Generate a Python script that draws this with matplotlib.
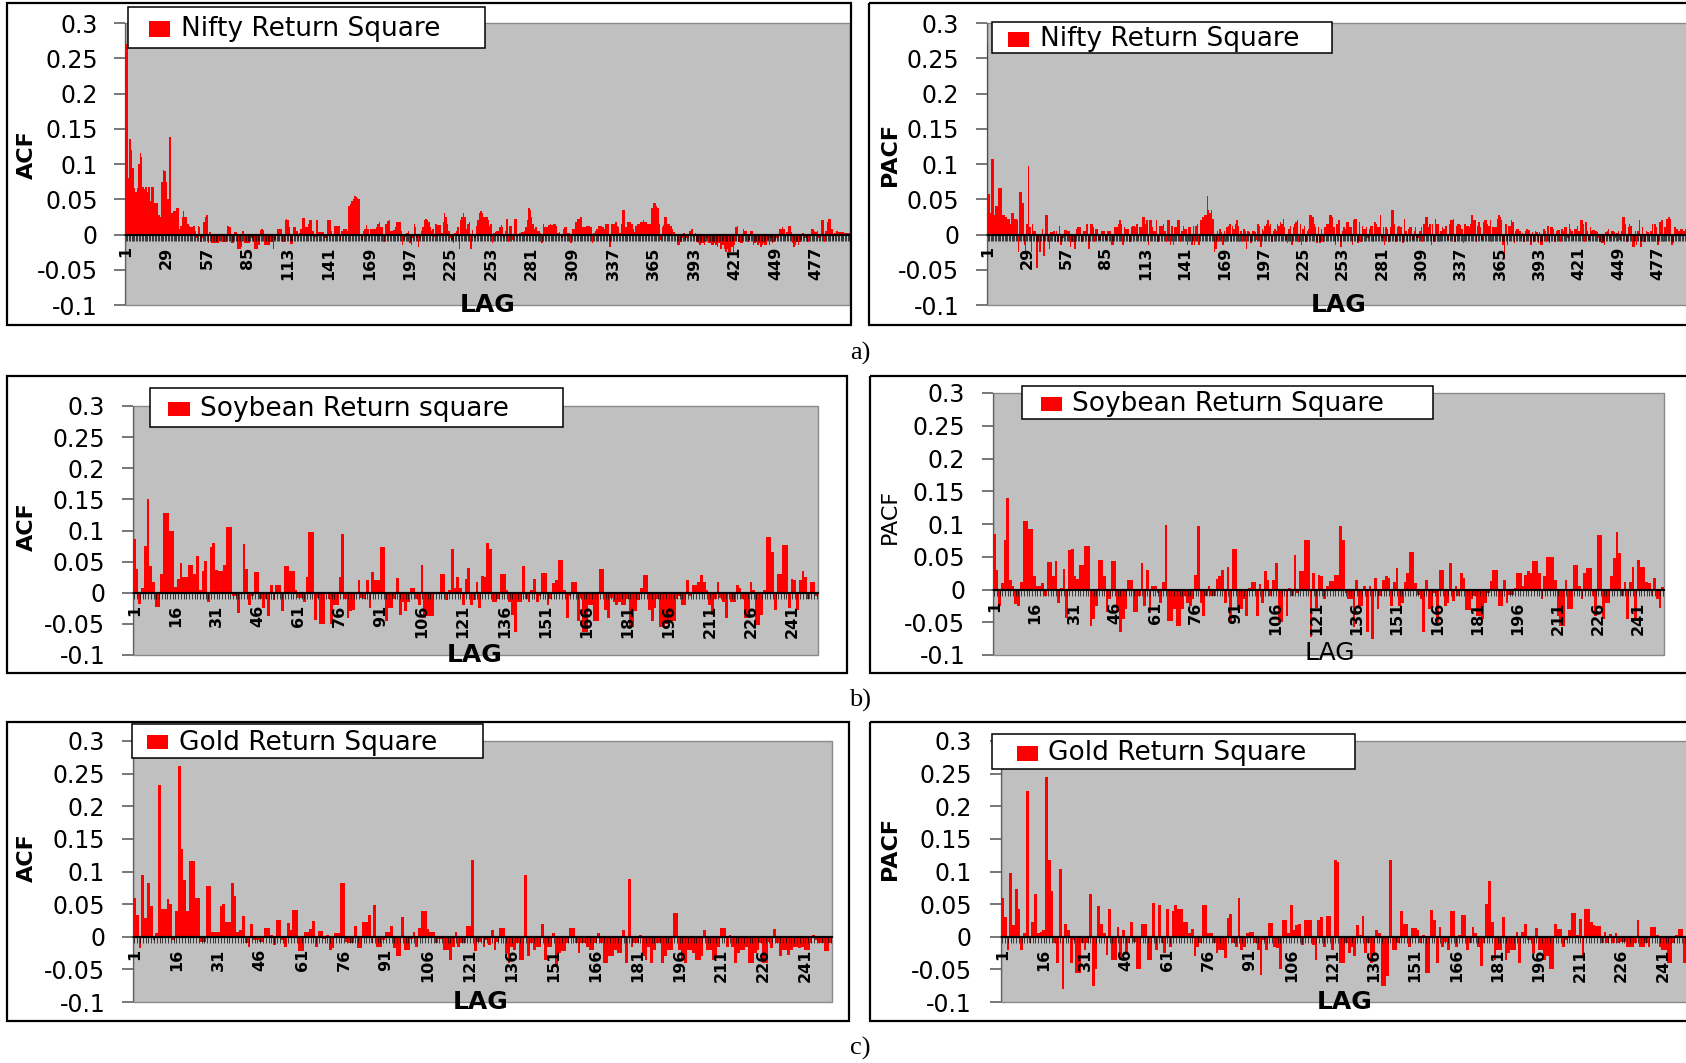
import numpy as np
import matplotlib
matplotlib.use("Agg")
import matplotlib.pyplot as plt
from matplotlib.patches import Rectangle

plt.rcParams["font.family"] = ["DejaVu Sans"]

W, H = 1686, 1063
RED = "#ff0000"
GREY = "#c0c0c0"

Y_TICKS = [-0.1, -0.05, 0, 0.05, 0.1, 0.15, 0.2, 0.25, 0.3]
Y_TICK_LABELS = ["-0.1", "-0.05", "0", "0.05", "0.1", "0.15", "0.2", "0.25", "0.3"]

# label every 28th lag for Nifty (1, 29, 57 ...), every 15th for the others
NIFTY_STEP = 28
OTHER_STEP = 15

NIFTY_ACF = [
    0.273, 0.270, 0.080, 0.135, 0.120, 0.095, 0.066, 0.060, 0.066, 0.100,
    0.115, 0.110, 0.068, 0.065, 0.068, 0.060, 0.068, 0.047, 0.068, 0.068,
    0.045, 0.045, 0.045, 0.027, 0.025, 0.075, 0.092, 0.090, 0.075, 0.050,
    0.138, 0.138, 0.030, 0.033, 0.033, 0.038, 0.038, 0.008, 0.012, 0.025,
    0.033, 0.025, 0.025, 0.015, 0.012, 0.010, 0.010, 0.012, 0.005, -0.005,
    0.012, 0.010, -0.010, -0.005, 0.018, 0.025, 0.027, -0.012, 0.004, -0.012,
    -0.012, -0.012, -0.012, -0.012, -0.012, 0.000, 0.000, -0.010, -0.010, -0.010,
    0.012, 0.012, 0.010, -0.012, -0.012, 0.003, 0.004, -0.020, -0.020, -0.020,
    -0.018, 0.005, -0.012, -0.012, -0.012, -0.012, 0.000, -0.005, -0.010, -0.020,
    -0.020, -0.020, -0.015, 0.006, 0.008, 0.006, -0.015, -0.015, -0.015, -0.015,
    -0.010, -0.010, -0.020, -0.008, 0.000, 0.008, 0.008, 0.008, -0.010, -0.010,
    0.020, 0.022, 0.020, 0.010, -0.014, -0.014, 0.011, 0.011, 0.005, -0.005,
    0.002, 0.008, 0.024, 0.024, 0.010, 0.010, 0.015, 0.020, 0.020, 0.005,
    -0.005, -0.003, 0.020, 0.003, 0.003, 0.003, 0.003, -0.005, -0.005, 0.020,
    0.020, 0.020, 0.005, 0.000, 0.012, 0.012, 0.012, 0.012, -0.008, 0.005,
    0.008, 0.008, 0.008, 0.005, 0.040, 0.043, 0.048, 0.050, 0.055, 0.053,
    0.052, 0.050, 0.000, -0.008, 0.005, 0.008, 0.013, 0.008, -0.005, 0.008,
    0.008, 0.008, 0.008, 0.010, 0.015, 0.018, 0.010, 0.010, -0.010, 0.015,
    0.015, 0.019, 0.020, 0.005, 0.005, 0.007, 0.010, 0.018, 0.018, 0.018,
    0.005, -0.015, -0.008, -0.003, 0.002, 0.005, -0.012, -0.015, -0.005, 0.015,
    0.010, -0.005, -0.018, -0.005, 0.005, 0.010, 0.020, 0.022, 0.020, 0.018,
    0.010, 0.005, 0.008, -0.003, 0.015, 0.013, 0.013, 0.013, 0.002, 0.018,
    0.030, 0.025, 0.015, 0.005, -0.005, -0.008, -0.012, 0.002, 0.005, 0.010,
    -0.020, 0.020, 0.025, 0.030, 0.025, 0.008, 0.015, 0.018, -0.020, 0.007,
    0.000, -0.005, 0.012, 0.020, 0.030, 0.033, 0.030, 0.025, 0.025, 0.025,
    0.020, 0.012, 0.015, -0.012, 0.002, 0.003, 0.005, 0.005, 0.010, 0.013,
    0.010, -0.005, 0.005, 0.022, -0.010, 0.012, 0.012, -0.008, 0.022, 0.022,
    -0.004, 0.000, 0.002, 0.003, 0.004, 0.005, 0.010, 0.020, 0.037, 0.035,
    0.025, 0.015, 0.008, 0.010, 0.005, 0.005, 0.002, -0.012, 0.015, 0.010,
    0.010, 0.010, 0.013, 0.015, 0.013, 0.015, 0.015, 0.012, 0.002, 0.003,
    0.001, -0.005, 0.008, 0.010, 0.010, 0.002, 0.002, -0.012, 0.008, 0.008,
    0.018, 0.018, 0.022, 0.022, 0.025, 0.010, 0.010, 0.010, 0.012, 0.012,
    0.012, 0.010, -0.012, 0.002, 0.005, 0.008, 0.012, 0.012, 0.012, 0.010,
    0.008, 0.015, 0.015, 0.015, -0.018, 0.015, 0.015, 0.015, 0.018, 0.012,
    0.010, 0.002, 0.015, 0.035, 0.035, 0.010, 0.018, 0.018, 0.018, 0.015,
    0.008, 0.003, 0.012, 0.015, 0.015, 0.018, 0.018, 0.020, 0.018, 0.018,
    0.015, 0.015, 0.015, 0.038, 0.045, 0.045, 0.040, 0.038, 0.015, -0.008,
    0.010, 0.013, 0.025, 0.025, 0.015, 0.015, 0.012, 0.008, 0.003, 0.000,
    0.000, -0.015, -0.015, -0.010, -0.005, 0.002, -0.008, -0.005, -0.005, 0.005,
    0.008, 0.008, -0.003, 0.002, -0.010, -0.012, -0.015, -0.012, -0.012, -0.015,
    -0.010, -0.005, -0.012, -0.012, -0.015, -0.015, -0.012, -0.015, -0.018, -0.012,
    -0.020, -0.020, -0.015, -0.020, -0.025, -0.020, -0.025, -0.025, -0.018, -0.025,
    -0.015, 0.010, 0.012, -0.010, -0.012, -0.012, 0.008, 0.005, 0.005, -0.010,
    -0.008, 0.005, 0.005, -0.015, -0.012, -0.010, -0.015, -0.012, -0.018, -0.015,
    -0.012, -0.015, -0.015, -0.008, -0.015, -0.005, -0.012, -0.010, -0.008, -0.005,
    -0.005, 0.008, 0.008, 0.010, 0.008, -0.005, 0.003, 0.012, 0.012, 0.003,
    -0.012, -0.018, -0.015, -0.010, -0.015, -0.010, -0.008, 0.002, -0.005, -0.005,
    -0.010, -0.010, 0.000, 0.008, 0.008, 0.005, 0.003, 0.005, -0.005, -0.003,
    0.020, 0.020, -0.010, 0.005, 0.018, 0.022, 0.022, 0.008, -0.008, 0.002,
    0.005, 0.005, 0.004, 0.003, 0.003, 0.003, 0.002, 0.002, 0.002, 0.002,
]

NIFTY_PACF = [
    0.272, 0.058, 0.030, 0.107, 0.107, 0.028, 0.040, 0.040, 0.066, 0.066,
    0.066, 0.028, 0.028, 0.025, 0.022, 0.022, 0.015, 0.030, 0.030, 0.022,
    0.022, 0.020, -0.025, 0.060, 0.060, 0.045, -0.015, -0.028, 0.015, 0.097,
    0.010, -0.025, 0.015, 0.005, 0.005, -0.047, -0.010, -0.025, 0.000, 0.008,
    -0.030, 0.027, 0.027, -0.010, -0.020, 0.003, 0.003, 0.005, -0.010, 0.005,
    -0.010, 0.012, -0.015, -0.005, -0.005, 0.006, 0.006, 0.005, 0.005, -0.018,
    -0.010, -0.010, -0.020, 0.008, 0.010, 0.010, 0.010, -0.010, 0.005, 0.005,
    0.015, 0.015, -0.020, 0.015, 0.015, 0.010, -0.010, 0.008, 0.008, -0.008,
    -0.008, 0.005, 0.005, 0.005, -0.008, 0.005, 0.005, 0.005, -0.015, -0.015,
    0.010, 0.010, 0.010, 0.015, 0.020, 0.015, -0.015, 0.010, 0.008, 0.008,
    0.008, -0.010, 0.010, 0.012, 0.012, 0.010, 0.015, -0.005, 0.010, 0.010,
    0.025, 0.025, 0.015, 0.020, -0.015, 0.020, 0.020, 0.010, 0.005, 0.005,
    0.020, -0.010, 0.012, 0.012, 0.012, 0.015, 0.005, -0.010, 0.020, 0.020,
    -0.015, 0.012, -0.015, 0.010, 0.010, 0.020, 0.020, -0.010, 0.005, 0.012,
    0.008, 0.008, -0.015, 0.010, 0.010, -0.015, 0.012, -0.015, 0.012, 0.015,
    -0.015, 0.020, 0.020, 0.025, 0.028, 0.028, 0.055, 0.035, 0.030, 0.035,
    0.022, -0.025, -0.020, 0.005, -0.010, 0.008, 0.003, -0.015, 0.005, -0.010,
    0.010, 0.012, 0.015, -0.010, 0.012, 0.008, 0.015, 0.020, 0.012, -0.010,
    0.005, -0.010, 0.008, 0.005, -0.020, 0.005, 0.003, -0.012, 0.005, 0.005,
    0.003, -0.008, 0.015, 0.012, -0.018, 0.008, 0.005, 0.012, 0.015, 0.020,
    0.012, 0.015, -0.010, 0.005, 0.008, 0.005, 0.015, 0.012, 0.018, 0.015,
    0.022, 0.010, -0.008, -0.012, 0.008, 0.012, -0.015, 0.010, 0.015, 0.018,
    0.020, -0.010, 0.015, -0.015, 0.008, 0.012, -0.010, 0.005, 0.008, 0.028,
    0.027, 0.025, 0.015, 0.010, -0.012, 0.010, -0.012, 0.008, -0.010, 0.010,
    0.010, 0.015, 0.015, 0.028, 0.028, 0.025, 0.010, -0.015, 0.015, 0.020,
    0.020, -0.018, 0.005, 0.010, 0.008, 0.018, 0.018, 0.010, 0.010, -0.015,
    0.020, 0.022, 0.022, -0.012, 0.018, -0.010, 0.012, 0.008, 0.008, 0.010,
    -0.005, 0.008, 0.012, 0.012, -0.010, 0.018, 0.015, 0.010, 0.010, 0.028,
    -0.005, 0.010, -0.015, 0.010, 0.008, -0.010, 0.010, 0.035, 0.035, 0.015,
    -0.010, 0.010, 0.012, 0.010, 0.010, -0.012, 0.022, 0.005, -0.010, 0.008,
    0.010, 0.010, -0.008, 0.005, 0.010, -0.005, -0.005, 0.005, 0.010, -0.010,
    0.015, 0.025, 0.025, 0.010, 0.015, -0.015, 0.015, -0.010, 0.022, 0.015,
    0.015, -0.010, 0.005, 0.010, 0.008, 0.012, 0.012, -0.008, 0.015, 0.020,
    0.020, 0.022, -0.010, 0.012, 0.015, 0.015, 0.013, 0.008, -0.012, 0.015,
    0.012, 0.012, 0.010, 0.015, 0.028, 0.020, 0.020, -0.010, 0.012, 0.018,
    0.010, -0.008, 0.018, 0.020, 0.020, 0.015, 0.012, 0.020, -0.010, 0.010,
    0.010, 0.010, 0.022, 0.027, 0.025, 0.020, -0.015, -0.035, 0.015, -0.015,
    0.012, 0.012, 0.020, 0.018, -0.012, 0.005, 0.008, 0.008, 0.005, -0.005,
    0.002, -0.010, 0.005, 0.008, 0.006, 0.006, -0.015, 0.003, -0.010, 0.005,
    0.003, -0.012, 0.003, -0.015, -0.015, 0.008, 0.005, -0.010, 0.012, -0.012,
    0.010, 0.010, 0.008, -0.010, 0.005, 0.006, 0.006, -0.010, 0.008, 0.005,
    0.010, 0.010, -0.005, 0.015, 0.008, 0.005, -0.008, 0.008, 0.008, 0.012,
    0.005, 0.020, 0.020, 0.015, -0.010, 0.018, 0.005, -0.008, 0.010, 0.005,
    0.006, 0.006, 0.005, 0.003, -0.005, -0.010, -0.012, -0.012, -0.015, 0.003,
    0.005, 0.008, -0.005, 0.005, 0.005, 0.003, -0.005, 0.002, 0.005, -0.008,
    0.005, 0.025, 0.025, 0.015, -0.010, 0.010, 0.015, 0.012, -0.018, -0.018,
    0.005, -0.015, 0.005, 0.020, -0.018, 0.010, -0.010, -0.010, 0.005, 0.003,
    -0.010, 0.005, 0.015, -0.010, 0.015, 0.010, -0.015, 0.018, 0.018, 0.020,
    -0.010, 0.010, 0.022, 0.022, 0.025, 0.022, -0.015, -0.012, 0.010, 0.008,
    0.008, 0.005, 0.008, 0.008, 0.005, 0.005, 0.008, 0.008, 0.005, 0.005,
]

SOY_ACF = [
    0.087, 0.038, -0.018, 0.008, 0.075, 0.150, 0.043, 0.018, -0.023, -0.023,
    0.030, 0.128, 0.128, 0.100, 0.100, 0.010, 0.022, 0.047, 0.025, 0.025,
    0.045, 0.045, 0.030, 0.059, 0.005, 0.035, 0.051, -0.015, 0.073, 0.080,
    0.037, 0.035, 0.035, 0.045, 0.106, 0.106, -0.005, -0.005, -0.033, 0.002,
    0.078, 0.038, -0.020, -0.005, 0.033, 0.033, -0.010, -0.025, -0.010, -0.038,
    0.012, -0.012, 0.012, 0.012, -0.030, 0.043, 0.043, 0.035, 0.035, 0.005,
    -0.008, -0.008, -0.015, 0.025, 0.097, 0.097, -0.043, -0.008, -0.050, -0.050,
    0.000, -0.010, -0.050, -0.020, -0.020, 0.025, 0.095, -0.010, -0.040, -0.030,
    -0.028, 0.002, 0.020, -0.008, -0.010, 0.020, -0.025, 0.033, 0.020, 0.020,
    0.073, 0.073, -0.045, -0.025, -0.025, -0.010, 0.023, -0.035, -0.015, -0.030,
    -0.015, 0.008, 0.008, -0.010, -0.020, 0.045, -0.040, -0.038, -0.038, -0.038,
    0.002, 0.002, 0.030, 0.030, -0.012, 0.005, 0.070, 0.008, 0.025, 0.008,
    -0.020, 0.022, 0.040, -0.020, -0.012, 0.018, -0.025, 0.027, 0.025, 0.080,
    0.070, -0.015, -0.015, -0.010, 0.030, 0.030, 0.005, -0.015, -0.035, -0.063,
    -0.015, -0.015, 0.043, -0.010, -0.015, 0.005, 0.022, -0.015, -0.005, 0.031,
    0.031, -0.020, -0.010, 0.015, 0.020, 0.053, 0.053, 0.005, -0.040, -0.005,
    0.018, 0.018, -0.045, -0.008, -0.063, -0.063, -0.020, -0.020, -0.045, -0.045,
    0.038, 0.038, -0.028, -0.040, -0.008, -0.015, -0.020, -0.015, -0.020, -0.020,
    -0.010, -0.055, -0.055, -0.030, -0.012, 0.008, 0.028, 0.028, -0.028, -0.045,
    -0.025, -0.010, -0.055, -0.055, -0.050, -0.050, -0.045, -0.045, -0.010, -0.005,
    -0.020, -0.020, 0.020, -0.005, 0.012, 0.012, 0.018, 0.028, 0.018, 0.005,
    -0.020, -0.035, -0.010, 0.018, -0.008, -0.015, -0.040, 0.002, -0.015, -0.015,
    0.012, 0.008, -0.010, -0.040, -0.040, 0.018, 0.005, -0.052, -0.052, -0.035,
    0.005, 0.090, 0.090, 0.065, -0.028, 0.030, 0.030, 0.077, 0.077, -0.025,
    0.022, 0.020, -0.028, 0.020, 0.035, 0.025, -0.010, 0.018, 0.018, -0.005,
]

SOY_PACF = [
    0.085, 0.030, -0.025, 0.010, 0.075, 0.140, 0.015, 0.005, -0.022, -0.025,
    0.012, 0.104, 0.104, 0.093, 0.093, 0.020, 0.005, 0.005, 0.010, -0.010,
    0.042, 0.042, 0.020, 0.043, -0.020, 0.003, 0.032, -0.043, 0.060, 0.062,
    0.020, 0.016, 0.038, 0.038, 0.066, 0.066, -0.055, -0.045, -0.025, 0.045,
    0.045, 0.020, -0.035, -0.015, 0.043, 0.043, -0.035, -0.065, -0.045, -0.030,
    0.015, 0.015, -0.035, -0.035, -0.010, 0.040, -0.025, 0.030, -0.035, 0.005,
    0.005, -0.005, -0.020, 0.012, 0.098, -0.048, -0.048, -0.030, -0.055, -0.055,
    -0.030, -0.010, -0.020, -0.025, -0.015, 0.022, 0.097, -0.020, -0.040, -0.010,
    0.005, -0.010, -0.010, 0.016, 0.020, 0.030, -0.020, 0.035, -0.048, 0.062,
    0.062, -0.030, -0.030, -0.015, -0.040, 0.003, 0.011, 0.011, -0.040, 0.008,
    -0.020, 0.028, 0.015, -0.010, 0.015, 0.040, -0.050, -0.050, 0.001, -0.040,
    0.003, -0.010, 0.053, -0.005, 0.028, 0.028, 0.075, 0.075, -0.072, 0.025,
    -0.028, 0.022, 0.020, -0.015, 0.005, 0.013, 0.013, 0.022, 0.022, 0.097,
    0.075, -0.005, -0.015, -0.015, -0.058, 0.015, -0.025, -0.025, 0.005, -0.065,
    0.005, -0.075, 0.017, -0.030, -0.010, 0.015, 0.020, 0.018, -0.025, 0.012,
    0.033, -0.025, -0.020, 0.012, 0.025, 0.058, 0.058, 0.010, -0.008, -0.015,
    -0.065, 0.015, -0.030, -0.030, -0.005, -0.050, 0.030, 0.030, -0.025, -0.020,
    0.040, -0.018, 0.005, -0.010, 0.025, 0.018, -0.032, -0.032, -0.015, -0.010,
    -0.040, -0.040, -0.045, -0.020, -0.005, 0.013, 0.030, 0.030, -0.025, -0.025,
    0.015, -0.020, -0.008, -0.008, 0.003, 0.025, 0.025, 0.005, 0.022, 0.028,
    0.025, 0.043, 0.043, 0.025, -0.015, 0.020, 0.050, 0.050, 0.050, 0.015,
    -0.040, -0.055, -0.055, 0.015, -0.030, -0.030, 0.037, 0.037, 0.005, -0.015,
    0.025, 0.033, 0.033, -0.010, -0.040, 0.083, 0.083, -0.045, -0.020, -0.020,
    0.020, 0.048, 0.088, 0.055, -0.010, 0.012, -0.045, 0.012, 0.035, -0.045,
    0.045, 0.035, 0.035, 0.012, 0.010, -0.010, 0.017, -0.015, -0.028, 0.004,
]

GOLD_ACF = [
    0.060, 0.034, -0.017, 0.095, 0.028, 0.083, 0.047, -0.005, 0.005, 0.232,
    0.042, 0.042, 0.058, 0.050, -0.005, 0.040, 0.262, 0.135, 0.087, 0.040,
    0.116, 0.116, 0.060, 0.060, -0.008, -0.008, 0.078, 0.078, 0.008, 0.008,
    0.008, 0.047, 0.050, 0.023, 0.023, 0.082, 0.062, 0.008, 0.010, 0.032,
    -0.010, -0.015, 0.019, -0.005, -0.005, -0.008, -0.008, 0.013, 0.013, 0.002,
    -0.013, 0.026, 0.026, -0.005, -0.015, 0.021, 0.010, 0.041, 0.041, -0.022,
    -0.022, 0.008, 0.008, 0.012, 0.024, -0.015, 0.009, 0.009, -0.003, 0.002,
    -0.020, -0.018, 0.006, 0.006, 0.083, 0.083, -0.008, -0.010, -0.010, 0.016,
    -0.018, -0.018, 0.023, 0.023, 0.034, -0.010, 0.049, -0.015, -0.015, -0.005,
    0.007, 0.007, 0.017, -0.018, -0.030, -0.030, 0.030, -0.020, -0.020, -0.003,
    0.008, -0.015, 0.013, 0.040, 0.040, 0.012, 0.008, 0.008, -0.010, -0.003,
    -0.003, -0.020, -0.020, -0.035, -0.015, 0.007, -0.015, -0.010, -0.010, 0.017,
    0.017, 0.117, -0.022, -0.008, -0.008, -0.015, -0.005, -0.012, 0.010, -0.020,
    -0.008, 0.014, 0.014, -0.025, -0.040, -0.015, -0.020, -0.010, -0.035, -0.035,
    0.094, -0.030, -0.010, -0.020, -0.015, -0.015, 0.019, -0.035, -0.015, -0.015,
    0.005, -0.045, -0.025, -0.022, -0.022, -0.010, 0.014, 0.014, -0.010, -0.025,
    -0.010, -0.010, -0.015, -0.020, -0.020, -0.010, 0.005, -0.010, -0.040, -0.040,
    -0.030, -0.030, -0.020, -0.025, -0.025, 0.010, -0.040, 0.088, -0.015, -0.010,
    -0.010, 0.002, -0.030, -0.035, -0.015, -0.040, -0.020, -0.010, -0.010, -0.040,
    -0.030, -0.020, -0.020, 0.036, 0.036, -0.020, -0.035, -0.040, -0.020, -0.020,
    -0.025, -0.035, -0.035, -0.030, 0.010, -0.020, -0.020, -0.035, -0.030, -0.015,
    0.014, 0.014, -0.015, 0.003, -0.015, -0.040, -0.025, -0.020, -0.020, -0.015,
    -0.040, -0.040, -0.025, -0.020, -0.010, -0.040, -0.040, -0.008, -0.018, 0.012,
    -0.010, -0.030, -0.020, -0.020, -0.028, -0.020, -0.015, -0.015, -0.018, -0.015,
    -0.020, -0.020, -0.010, 0.003, -0.005, -0.010, -0.010, -0.022, -0.022, -0.010,
]

GOLD_PACF = [
    0.060, 0.030, -0.020, 0.097, 0.018, 0.073, 0.042, -0.020, 0.005, 0.223,
    -0.010, 0.022, 0.066, 0.005, 0.008, 0.010, 0.245, 0.118, 0.070, -0.010,
    -0.040, 0.104, -0.080, 0.020, 0.010, -0.040, -0.005, -0.055, -0.055, -0.010,
    -0.020, -0.010, 0.066, -0.075, -0.050, 0.047, 0.020, 0.005, -0.028, 0.043,
    -0.035, -0.035, 0.015, -0.035, 0.010, -0.025, -0.010, 0.023, -0.008, -0.050,
    -0.050, 0.020, 0.020, -0.035, -0.035, 0.052, -0.020, 0.048, -0.010, -0.025,
    0.043, -0.015, 0.040, 0.048, 0.042, 0.042, 0.023, 0.023, 0.005, 0.012,
    -0.030, -0.015, -0.010, 0.048, 0.048, 0.005, 0.005, -0.010, -0.025, -0.020,
    -0.020, -0.032, 0.028, 0.035, -0.010, -0.015, 0.060, -0.020, -0.015, 0.005,
    0.007, 0.007, -0.010, -0.020, -0.058, -0.005, -0.020, 0.021, 0.021, -0.015,
    -0.018, -0.050, 0.025, 0.025, 0.005, 0.048, 0.010, 0.018, 0.020, -0.013,
    0.025, 0.026, 0.026, -0.012, -0.035, 0.026, 0.030, -0.015, 0.032, 0.032,
    -0.020, 0.118, 0.115, -0.040, -0.040, -0.010, -0.025, -0.015, -0.030, 0.018,
    0.002, 0.032, -0.025, -0.010, -0.040, -0.030, 0.010, 0.005, -0.075, -0.075,
    -0.060, 0.118, -0.020, -0.020, -0.010, 0.040, 0.020, 0.020, -0.015, 0.013,
    0.013, 0.010, -0.010, 0.002, -0.055, -0.055, 0.041, 0.025, -0.040, 0.015,
    -0.015, -0.008, -0.020, 0.039, 0.039, -0.015, 0.002, 0.033, 0.033, -0.020,
    -0.010, 0.015, 0.005, -0.015, -0.045, -0.010, 0.050, 0.086, 0.022, -0.035,
    -0.020, -0.020, 0.030, -0.035, -0.025, -0.020, -0.020, 0.008, -0.040, 0.008,
    0.020, -0.005, -0.005, -0.025, 0.014, -0.020, -0.020, -0.035, -0.030, -0.050,
    -0.050, 0.019, 0.012, 0.012, -0.015, -0.005, 0.010, 0.036, 0.036, 0.002,
    0.027, -0.030, 0.042, 0.042, 0.023, 0.018, 0.017, 0.017, -0.010, 0.008,
    -0.010, 0.004, -0.010, 0.005, -0.010, -0.008, -0.008, -0.015, -0.015, -0.015,
    -0.010, 0.025, -0.015, -0.015, -0.010, -0.015, 0.015, 0.015, 0.003, -0.015,
    -0.020, -0.020, -0.040, -0.040, -0.010, 0.002, 0.012, 0.012, -0.040, -0.010,
]


def px_axes(fig, left, top, right, bottom):
    # figure pixel box -> figure fraction
    return fig.add_axes([left / W, 1 - bottom / H, (right - left) / W, (bottom - top) / H])


def draw_panel(fig, box, values, step, pad):
    ax = px_axes(fig, *box)
    lags = np.arange(1, len(values) + 1)
    # axis (ticks + labels) at zorder 2.5, above the bars like in Excel
    ax.set_axisbelow(False)
    ax.spines["left"].set_visible(False)
    ax.axvline(0.5, color="#606060", linewidth=1.0, zorder=1.5)
    ax.bar(lags, values, width=1.0, color=RED, linewidth=0, zorder=2)
    ax.axhline(0, color="black", linewidth=1.5, zorder=2.2)
    ax.set_xlim(0.5, len(values) + 0.5)
    ax.set_ylim(-0.1, 0.3)
    ax.set_facecolor(GREY)
    ax.patch.set_edgecolor("#8a8a8a")
    ax.patch.set_linewidth(1.0)
    ax.spines["top"].set_visible(False)
    ax.spines["right"].set_visible(False)
    ax.spines["bottom"].set_position(("data", 0))
    ax.spines["bottom"].set_color("black")
    ax.spines["bottom"].set_linewidth(1.5)

    ax.set_yticks(Y_TICKS)
    ax.set_yticklabels(Y_TICK_LABELS, fontsize=17)
    ax.tick_params(axis="y", length=8, width=1.2, color="#606060", pad=pad)

    shown = lags[::step]
    ax.set_xticks(shown)
    ax.set_xticklabels([str(v) for v in shown], rotation=90, fontsize=11.5, fontweight="bold")
    ax.set_xticks(lags, minor=True)
    ax.tick_params(axis="x", which="both", length=4.5, width=0.5, color="black", pad=4)
    return ax


def draw_legend(ov, box, square, text_xy, label):
    x0, y0, x1, y1 = box
    ov.add_patch(Rectangle((x0, y0), x1 - x0, y1 - y0, facecolor="white",
                           edgecolor="black", linewidth=1.1))
    sx0, sy0, sx1, sy1 = square
    ov.add_patch(Rectangle((sx0, sy0), sx1 - sx0, sy1 - sy0, facecolor=RED, linewidth=0))
    ov.text(text_xy[0], text_xy[1], label, fontsize=19, ha="left", va="center")


fig = plt.figure(figsize=(W / 100, H / 100), dpi=100)
fig.patch.set_facecolor("white")

draw_panel(fig, (125, 23, 850, 305), NIFTY_ACF, NIFTY_STEP, 11.5)
draw_panel(fig, (987, 23, 1691, 305), NIFTY_PACF, NIFTY_STEP, 12)
draw_panel(fig, (133, 406, 818, 655), SOY_ACF, OTHER_STEP, 12)
draw_panel(fig, (993, 393, 1664, 655), SOY_PACF, OTHER_STEP, 12)
draw_panel(fig, (133, 741, 832, 1002), GOLD_ACF, OTHER_STEP, 12)
draw_panel(fig, (1001, 741, 1689, 1002), GOLD_PACF, OTHER_STEP, 13)

# overlay in pixel coordinates for frames, legends and labels
ov = fig.add_axes([0, 0, 1, 1])
ov.set_xlim(0, W)
ov.set_ylim(H, 0)
ov.axis("off")
ov.set_zorder(5)

frames = [(7, 3, 851, 325), (869, 3, 1700, 325),
          (7, 376, 847, 673), (870, 376, 1700, 673),
          (7, 722, 849, 1021), (870, 722, 1700, 1021)]
for x0, y0, x1, y1 in frames:
    ov.add_patch(Rectangle((x0, y0), x1 - x0, y1 - y0, fill=False,
                           edgecolor="black", linewidth=1.6))

draw_legend(ov, (128, 7, 485, 48), (149, 21, 170, 37), (181, 29), "Nifty Return Square")
draw_legend(ov, (992, 22, 1332, 53), (1008, 32, 1029, 47), (1040, 39), "Nifty Return Square")
draw_legend(ov, (150, 388, 563, 427), (168, 402, 190, 416), (200, 409), "Soybean Return square")
draw_legend(ov, (1022, 386, 1433, 419), (1041, 397, 1062, 411), (1072, 404), "Soybean Return Square")
draw_legend(ov, (132, 724, 483, 758), (147, 735, 168, 749), (179, 743), "Gold Return Square")
draw_legend(ov, (992, 734, 1355, 769), (1017, 746, 1038, 761), (1048, 753), "Gold Return Square")

ylabels = [("ACF", 27, 155, "bold"), ("PACF", 890, 154, "bold"),
           ("ACF", 27, 527, "bold"), ("PACF", 890, 516, "normal"),
           ("ACF", 27, 858, "bold"), ("PACF", 890, 848, "bold")]
for text, x, y, weight in ylabels:
    ov.text(x, y, text, rotation=90, fontsize=16, fontweight=weight,
            ha="center", va="center")

lag_labels = [(488, 305, "bold"), (1339, 305, "bold"),
              (475, 655, "bold"), (1330, 653, "normal"),
              (481, 1002, "bold"), (1345, 1002, "bold")]
for x, y, weight in lag_labels:
    ov.text(x, y, "LAG", fontsize=18, fontweight=weight, ha="center", va="center")

for text, y in [("a)", 353), ("b)", 700), ("c)", 1048)]:
    ov.text(860, y, text, fontsize=19, family=["Liberation Serif", "DejaVu Serif"],
            ha="center", va="center")

fig.savefig("out.png", dpi=100, facecolor="white")
